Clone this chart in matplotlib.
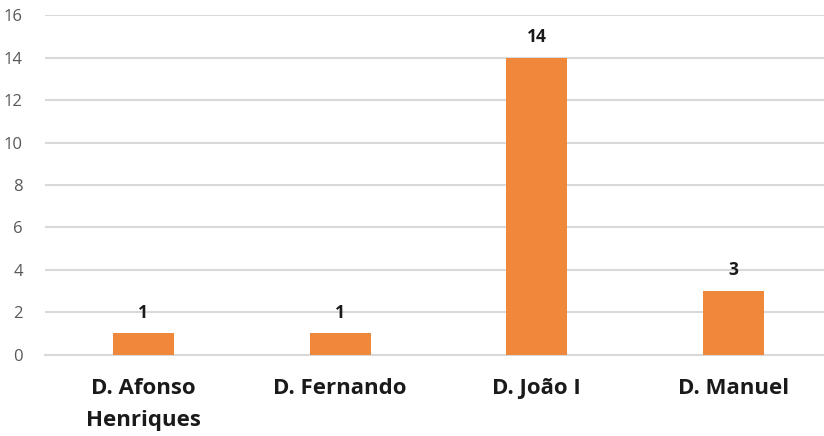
import matplotlib
matplotlib.use("Agg")
import matplotlib.pyplot as plt

categories = ["D. Afonso\nHenriques", "D. Fernando", "D. João I", "D. Manuel"]
values = [1, 1, 14, 3]
yticks = [0, 2, 4, 6, 8, 10, 12, 14, 16]

plt.rcParams['font.family'] = ['Open Sans', 'DejaVu Sans']

fig = plt.figure(figsize=(8.24, 4.36), dpi=100)
ax = fig.add_axes([45 / 824, 1 - 354.7 / 436, 787 / 824, (354.7 - 15.3) / 436])

x = list(range(len(categories)))
bars = ax.bar(x, values, width=0.31, color="#F0883B", zorder=3)

for xi, v in zip(x, values):
    ax.text(xi, v + 0.55, str(v), ha="center", va="bottom",
            fontsize=12.5, fontweight="bold", color="#1a1a1a")

ax.set_xlim(-0.5, len(categories) - 0.5)
ax.set_ylim(0, 16)
ax.set_yticks(yticks)
ax.set_yticklabels([str(t) for t in yticks], fontsize=12, color="#595959")
ax.set_xticks(x)
ax.set_xticklabels(categories, fontsize=16, fontweight="bold", color="#1a1a1a",
                   linespacing=1.65)
ax.tick_params(axis="both", length=0)
ax.tick_params(axis="x", pad=17)
ax.tick_params(axis="y", pad=16)

ax.yaxis.grid(True, color="#D9D9D9", linewidth=1.5, zorder=0)
for s in ["top", "right", "left"]:
    ax.spines[s].set_visible(False)
ax.spines["bottom"].set_color("#D9D9D9")
ax.spines["bottom"].set_linewidth(1.5)

fig.savefig("out.png", dpi=100)
